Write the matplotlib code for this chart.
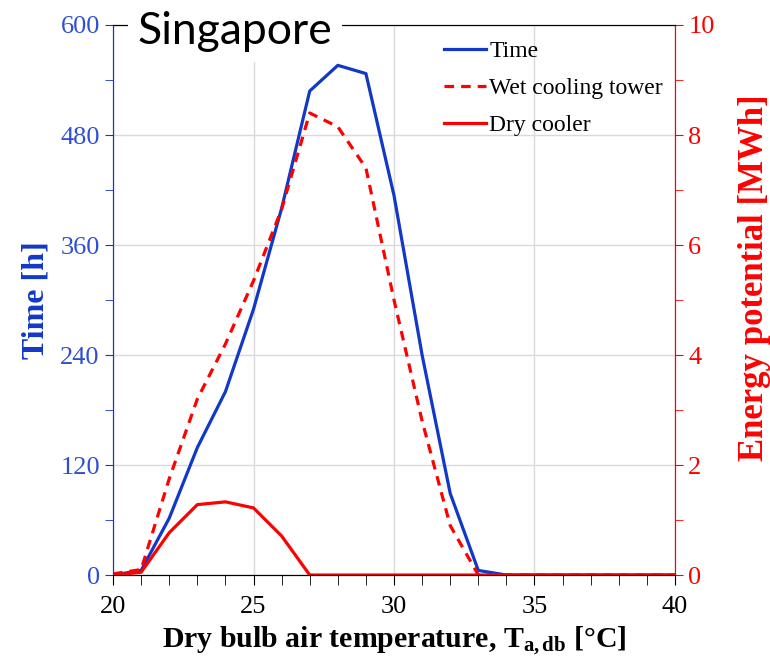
import matplotlib.pyplot as plt
from matplotlib.ticker import MultipleLocator

# data
temp = [20, 21, 22, 23, 24, 25, 26, 27, 28, 29, 30, 31, 32, 33, 34, 35, 36, 37, 38, 39, 40]
time_h = [0, 5, 62, 139, 200, 290, 400, 528, 556, 547, 414, 240, 89, 5, 0, 0, 0, 0, 0, 0, 0]
wet_mwh = [0.02, 0.1, 1.75, 3.2, 4.2, 5.35, 6.65, 8.4, 8.15, 7.4, 5.0, 2.8, 0.9, 0.0, 0, 0, 0, 0, 0, 0, 0]
dry_mwh = [0.0, 0.05, 0.77, 1.28, 1.33, 1.22, 0.71, 0.0, 0, 0, 0, 0, 0, 0, 0, 0, 0, 0, 0, 0, 0]

blue = '#1238c8'
blue_txt = '#2e4fd4'
red = '#ff0000'

plt.rcParams['font.family'] = ['Liberation Serif', 'DejaVu Serif']
plt.rcParams['mathtext.fontset'] = 'custom'
plt.rcParams['mathtext.rm'] = 'Liberation Serif'
plt.rcParams['mathtext.bf'] = 'Liberation Serif:bold'
plt.rcParams['mathtext.it'] = 'Liberation Serif:italic'

fig = plt.figure(figsize=(7.7, 6.63), dpi=100)
ax = fig.add_axes([0.1468, 0.1327, 0.7298, 0.8296])
ax2 = ax.twinx()

l1, = ax.plot(temp, time_h, color=blue, lw=2.3, label='Time')
l2, = ax2.plot(temp, wet_mwh, color=red, lw=2.3, ls=(0, (3, 2.2)), label='Wet cooling tower')
l3, = ax2.plot(temp, dry_mwh, color=red, lw=2.3, label='Dry cooler')

ax.set_xlim(20, 40)
ax.set_ylim(0, 600)
ax2.set_ylim(0, 10)

ax.xaxis.set_major_locator(MultipleLocator(5))
ax.xaxis.set_minor_locator(MultipleLocator(1))
ax.yaxis.set_major_locator(MultipleLocator(120))
ax.yaxis.set_minor_locator(MultipleLocator(60))
ax2.yaxis.set_major_locator(MultipleLocator(2))
ax2.yaxis.set_minor_locator(MultipleLocator(1))

ax.grid(True, which='major', color='#d9d9d9', lw=1)
ax.set_axisbelow(True)

ax.tick_params(axis='x', which='both', direction='out', colors='black', labelsize=19, length=7, pad=8)
ax.tick_params(axis='y', which='both', direction='out', colors=blue, labelcolor=blue_txt, labelsize=19, length=6)
ax2.tick_params(axis='y', which='both', direction='out', colors=red, labelcolor=red, labelsize=19, length=6)

for a in (ax, ax2):
    a.spines['left'].set_color(blue)
    a.spines['right'].set_color(red)
    a.spines['bottom'].set_color('black')
    a.spines['top'].set_color('black')

ax.set_xlabel('Dry bulb air temperature, T$_{\\mathbf{a,db}}$ [°C]', fontsize=21.5, fontweight='bold', labelpad=5)
ax.set_ylabel('Time [h]', fontsize=23, fontweight='bold', color=blue)
ax.yaxis.set_label_coords(-0.112, 0.5)
ax2.set_ylabel('Energy potential [MWh]', fontsize=25, fontweight='bold', color=red)
ax2.yaxis.set_label_coords(1.112, 0.54)

fig.text(0.179, 0.952, 'Singapore', family='Lato', fontsize=32, va='center', ha='left',
         bbox=dict(facecolor='white', edgecolor='none', pad=7))

ax2.legend(handles=[l1, l2, l3], loc='upper right', bbox_to_anchor=(1.016, 1.01), frameon=False,
           fontsize=17, handlelength=1.75, handletextpad=0.15, labelspacing=0.65)

plt.savefig('out.png', dpi=100)
